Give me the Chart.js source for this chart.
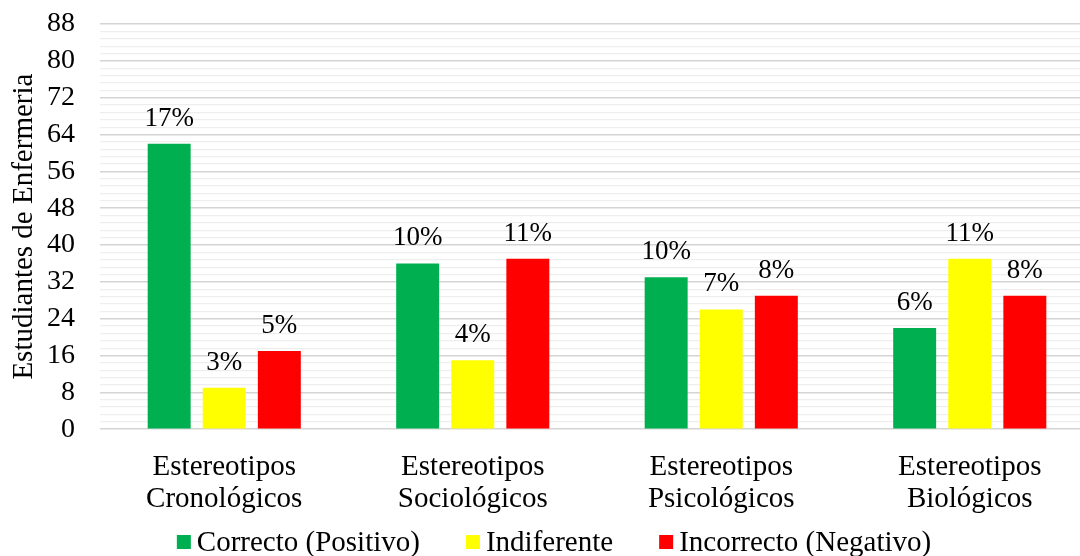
<!DOCTYPE html>
<html>
<head>
<meta charset="utf-8">
<script src="https://cdn.jsdelivr.net/npm/chart.js@4"></script>
<style>
  html, body { margin: 0; padding: 0; background: #fff; overflow: hidden; }
  #wrap { width: 1100px; height: 556px; }
</style>
</head>
<body>
<div id="wrap"><canvas id="chart"></canvas></div>
<script>
const categories = [
  ['Estereotipos', 'Cronológicos'],
  ['Estereotipos', 'Sociológicos'],
  ['Estereotipos', 'Psicológicos'],
  ['Estereotipos', 'Biológicos']
];
const correcto = [62, 36, 33, 22];
const indiferente = [9, 15, 26, 37];
const incorrecto = [17, 37, 29, 29];
const pctCorrecto = ['17%', '10%', '10%', '6%'];
const pctIndiferente = ['3%', '4%', '7%', '11%'];
const pctIncorrecto = ['5%', '11%', '8%', '8%'];
const yTicks = [0, 8, 16, 24, 32, 40, 48, 56, 64, 72, 80, 88];

const serif = 'Liberation Serif, Times New Roman, serif';

// percentage labels above each bar
const barLabels = {
  id: 'barLabels',
  afterDatasetsDraw(chart) {
    const ctx = chart.ctx;
    ctx.save();
    ctx.fillStyle = '#000';
    ctx.font = '27px ' + serif;
    ctx.textAlign = 'center';
    ctx.textBaseline = 'alphabetic';
    chart.data.datasets.forEach((ds, i) => {
      chart.getDatasetMeta(i).data.forEach((bar, j) => {
        ctx.fillText(ds.pct[j], bar.x, bar.y - 18);
      });
    });
    ctx.restore();
  }
};

// legend row at the bottom: small square, short gap, label
const bottomLegend = {
  id: 'bottomLegend',
  afterDraw(chart) {
    const ctx = chart.ctx;
    const box = 14, gapText = 6, gapItem = 46, y = 542;
    ctx.save();
    ctx.font = '29px ' + serif;
    ctx.textBaseline = 'middle';
    const items = chart.data.datasets.map(ds => ({
      text: ds.label, color: ds.backgroundColor, w: ctx.measureText(ds.label).width
    }));
    const total = items.reduce((s, it) => s + box + gapText + it.w, 0) + gapItem * (items.length - 1);
    let x = chart.width / 2 + 4 - total / 2;
    items.forEach(it => {
      ctx.fillStyle = it.color;
      ctx.fillRect(x, y - box / 2, box, box);
      x += box + gapText;
      ctx.fillStyle = '#000';
      ctx.fillText(it.text, x, y + 1);
      x += it.w + gapItem;
    });
    ctx.restore();
  }
};

new Chart(document.getElementById('chart'), {
  type: 'bar',
  data: {
    labels: categories,
    datasets: [
      { label: 'Correcto (Positivo)', data: correcto, pct: pctCorrecto, backgroundColor: '#00b050' },
      { label: 'Indiferente', data: indiferente, pct: pctIndiferente, backgroundColor: '#ffff00' },
      { label: 'Incorrecto (Negativo)', data: incorrecto, pct: pctIncorrecto, backgroundColor: '#ff0000' }
    ]
  },
  options: {
    responsive: true,
    maintainAspectRatio: false,
    animation: false,
    datasets: {
      bar: { categoryPercentage: 0.665, barPercentage: 0.78 }
    },
    layout: { padding: { top: 24, right: 6, bottom: 27, left: 0 } },
    plugins: {
      legend: { display: false },
      tooltip: { enabled: false }
    },
    scales: {
      x: {
        grid: { display: false },
        border: { display: false },
        ticks: {
          font: { family: serif, size: 29, lineHeight: 1.1 },
          color: '#000',
          padding: 14,
          maxRotation: 0
        }
      },
      y: {
        min: 0,
        max: 88,
        border: { display: false },
        afterFit(scale) { scale.width = 100; },
        afterBuildTicks(scale) {
          // major ticks every 8, four minor lines between them
          const t = [];
          for (let i = 0; i <= 55; i++) t.push({ value: i * 1.6 });
          scale.ticks = t;
        },
        grid: {
          color: ctx => (Math.round(ctx.tick.value / 1.6) % 5 === 0 ? '#d4d4d4' : '#eeeeee'),
          lineWidth: ctx => (Math.round(ctx.tick.value / 1.6) % 5 === 0 ? 1.6 : 1.2),
          drawTicks: true,
          tickLength: 25,
          tickColor: 'rgba(0,0,0,0)'
        },
        ticks: {
          autoSkip: false,
          padding: 0,
          font: { family: serif, size: 28 },
          color: '#000',
          callback: function (value) {
            const v = Math.round(value);
            return (Math.round(value / 1.6) % 5 === 0 && yTicks.includes(v)) ? String(v) : '';
          }
        },
        title: {
          display: true,
          text: 'Estudiantes de Enfermeria',
          font: { family: serif, size: 29 },
          color: '#000',
          padding: { top: 7, bottom: 0 }
        }
      }
    }
  },
  plugins: [barLabels, bottomLegend]
});
</script>
</body>
</html>
